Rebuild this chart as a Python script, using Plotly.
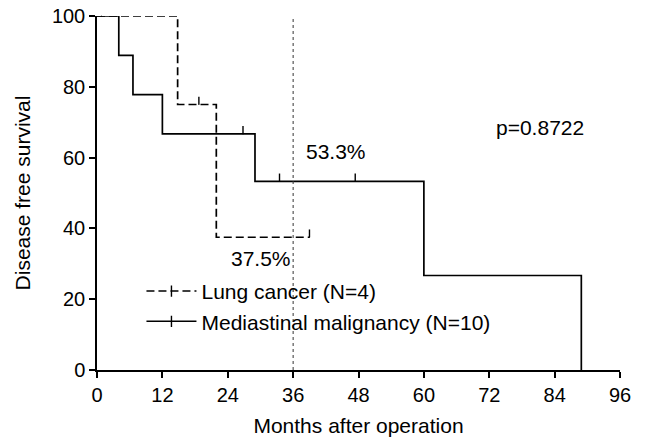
import plotly.graph_objects as go

# Kaplan-Meier step data (months, % survival)
lung_times = [0, 14.8, 21.9, 39]
lung_surv = [100, 75, 37.5, 37.5]
lung_cens_t = [18.7, 39]
lung_cens_s = [75, 37.5]

med_times = [0, 4, 6.6, 12, 29, 60, 88.9]
med_surv = [100, 88.9, 77.8, 66.7, 53.3, 26.7, 0]
med_cens_t = [0.8, 26.8, 33.5, 47.4]
med_cens_s = [100, 66.7, 53.3, 53.3]

x_ticks = [0, 12, 24, 36, 48, 60, 72, 84, 96]
y_ticks = [0, 20, 40, 60, 80, 100]
ref_month = 36

FONT = "Liberation Sans, Arial, sans-serif"
LUNG_DASH = "8px,4px"

fig = go.Figure()
fig.add_trace(go.Scatter(
    x=lung_times, y=lung_surv, mode="lines", line_shape="hv",
    line=dict(color="black", width=1.7, dash=LUNG_DASH),
    showlegend=False, cliponaxis=False))
fig.add_trace(go.Scatter(
    x=med_times, y=med_surv, mode="lines", line_shape="hv",
    line=dict(color="black", width=1.7),
    showlegend=False, cliponaxis=False))

for ct, cs in [(lung_cens_t, lung_cens_s), (med_cens_t, med_cens_s)]:
    fig.add_trace(go.Scatter(
        x=ct, y=cs, mode="markers", marker=dict(size=1, color="black"),
        error_y=dict(type="data", symmetric=False, array=[2.2] * len(ct),
                     arrayminus=[0] * len(ct), width=0, thickness=1.4,
                     color="black"),
        showlegend=False, cliponaxis=False, hoverinfo="skip"))

# legend entries (line sample with censor tick)
fig.add_trace(go.Scatter(
    x=[None], y=[None], mode="lines+markers", name="Lung cancer (N=4)",
    line=dict(color="black", width=1.5, dash=LUNG_DASH),
    marker=dict(symbol="line-ns-open", size=8, color="black",
                line=dict(width=1.4, color="black"))))
fig.add_trace(go.Scatter(
    x=[None], y=[None], mode="lines+markers", name="Mediastinal malignancy (N=10)",
    line=dict(color="black", width=1.5),
    marker=dict(symbol="line-ns-open", size=8, color="black",
                line=dict(width=1.4, color="black"))))

fig.add_shape(type="line", x0=ref_month, x1=ref_month, y0=0, y1=99.5,
              xref="x", yref="y", line=dict(color="#333", width=1, dash="dot"))

fig.add_annotation(x=43.9, y=61.7, text="53.3%", showarrow=False,
                   font=dict(size=21, color="black", family=FONT))
fig.add_annotation(x=30.1, y=31.6, text="37.5%", showarrow=False,
                   font=dict(size=21, color="black", family=FONT))
fig.add_annotation(x=81.4, y=68.4, text="p=0.8722", showarrow=False,
                   font=dict(size=21, color="black", family=FONT))

fig.update_layout(
    width=650, height=441,
    margin=dict(l=97, r=30, t=16, b=71),
    paper_bgcolor="white", plot_bgcolor="white",
    font=dict(family=FONT, size=20, color="black"),
    showlegend=True,
    legend=dict(x=0.085, y=0.28, xanchor="left", yanchor="top",
                bgcolor="rgba(0,0,0,0)", font=dict(size=21),
                itemwidth=50, tracegroupgap=0),
)
fig.update_xaxes(
    range=[0, 96], tickvals=x_ticks, showgrid=False, zeroline=False,
    showline=True, linecolor="black", linewidth=1.5,
    ticks="outside", ticklen=6, tickwidth=1.5, tickcolor="black",
    automargin=False,
    title=dict(text="Months after operation", standoff=14, font=dict(size=21)),
)
fig.update_yaxes(
    range=[0, 100], tickvals=y_ticks, showgrid=False, zeroline=False,
    showline=True, linecolor="black", linewidth=1.5,
    ticks="outside", ticklen=6, tickwidth=1.5, tickcolor="black",
    automargin=False,
    title=dict(text="Disease free survival", standoff=16, font=dict(size=21)),
)

fig.write_html("out.html", config={"displayModeBar": False},
               post_script="document.body.style.margin='0px';")
